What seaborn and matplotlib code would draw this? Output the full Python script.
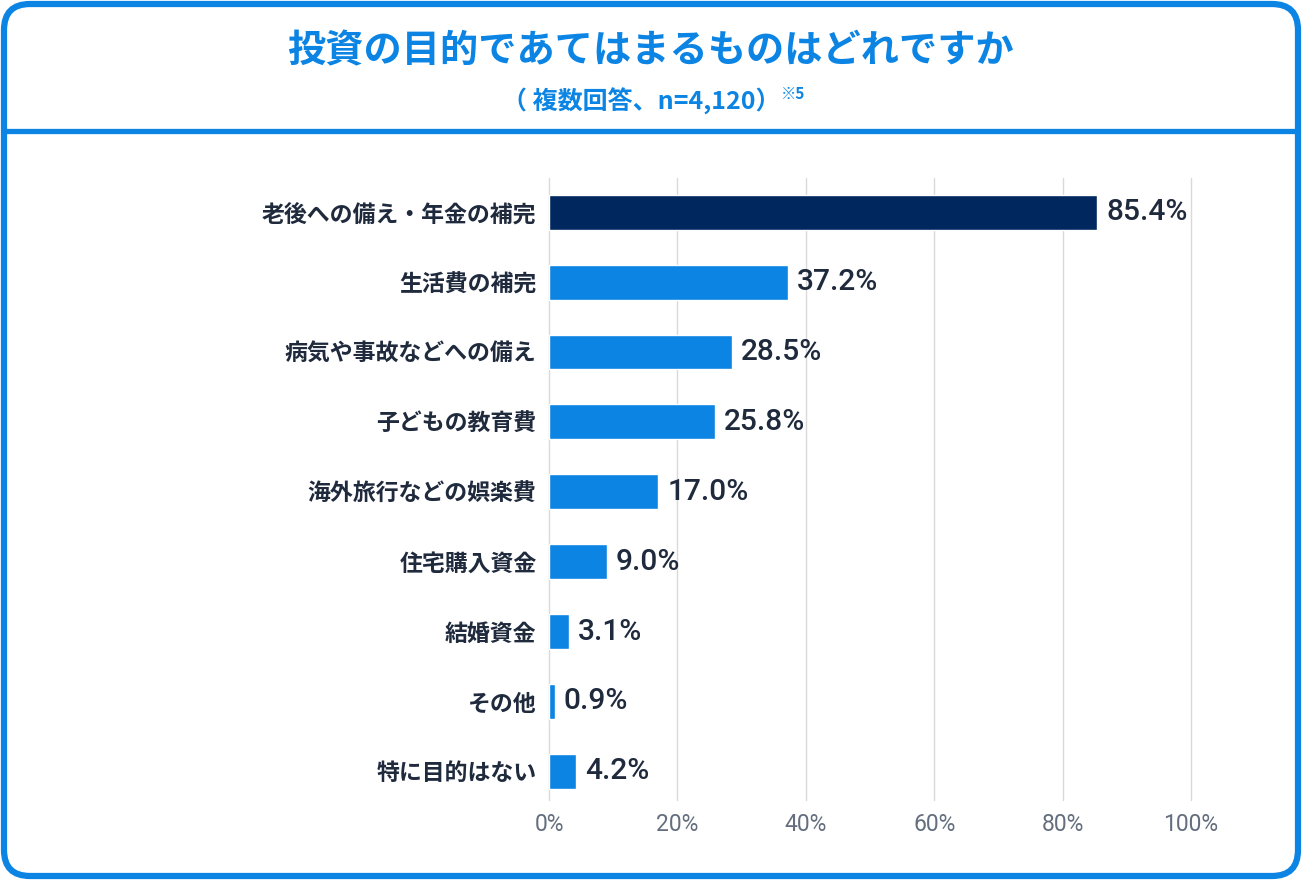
import matplotlib
matplotlib.use("Agg")
import matplotlib.pyplot as plt
from matplotlib.patches import FancyBboxPatch
import seaborn as sns
import pandas as pd

categories = ["老後への備え・年金の補完", "生活費の補完", "病気や事故などへの備え", "子どもの教育費",
              "海外旅行などの娯楽費", "住宅購入資金", "結婚資金", "その他", "特に目的はない"]
values = [85.4, 37.2, 28.5, 25.8, 17.0, 9.0, 3.1, 0.9, 4.2]
tick_values = [0, 20, 40, 60, 80, 100]
tick_labels = ["0%", "20%", "40%", "60%", "80%", "100%"]
title = "投資の目的であてはまるものはどれですか"
subtitle = "（ 複数回答、n=4,120）"
note = "※5"

BLUE = "#0b84e3"
NAVY = "#00285f"
TEXT = "#1f2a3d"
GREY = "#646e7e"
JP = ["Noto Sans CJK JP", "DejaVu Sans"]

sns.set_theme(style="white")
plt.rcParams["font.family"] = JP

fig = plt.figure(figsize=(13.02, 8.8), dpi=100)
W, H = 1302, 880

# frame
frame = FancyBboxPatch((4 / W, 4 / H), (W - 8) / W, (H - 8) / H,
                       boxstyle="round,pad=0,rounding_size=0.02",
                       transform=fig.transFigure, facecolor="none",
                       edgecolor=BLUE, linewidth=4.5, mutation_aspect=W / H, zorder=5)
fig.patches.append(frame)
fig.add_artist(plt.Line2D([4 / W, (W - 4) / W], [1 - 131 / H, 1 - 131 / H],
                          transform=fig.transFigure, color=BLUE, linewidth=3.8))

fig.text(0.5, 1 - 51 / H, title, ha="center", va="center", fontsize=27.5,
         fontweight="bold", color=BLUE, family=JP)
sub = fig.text(0.5 - 10 / W, 1 - 101 / H, subtitle, ha="center", va="center", fontsize=18,
               fontweight="bold", color=BLUE, family=JP)
fig.canvas.draw()
bb = sub.get_window_extent()
fig.text(bb.x1 / W + 1 / W, 1 - 94 / H, note, ha="left", va="center",
         fontsize=11, fontweight="bold", color=BLUE, family=JP)

ax = fig.add_axes([549 / W, 1 - 800 / H, (1191 - 549) / W, (800 - 178) / H])
df = pd.DataFrame({"cat": categories, "val": values})
palette = [NAVY] + [BLUE] * (len(categories) - 1)
sns.barplot(data=df, x="val", y="cat", hue="cat", palette=palette, legend=False,
            orient="h", width=0.5, ax=ax, zorder=3, saturation=1)

ax.set_xlim(0, 100)
ax.set_ylim(8.41, -0.49)
ax.set_xticks(tick_values)
ax.set_xticklabels(tick_labels, color=GREY, fontsize=16.5, family=["Roboto", "DejaVu Sans"])
ax.tick_params(axis="x", length=0, pad=9)
ax.tick_params(axis="y", length=0, pad=9)
for lbl in ax.get_yticklabels():
    lbl.set_fontsize(16.5)
    lbl.set_fontweight("bold")
    lbl.set_color(TEXT)
ax.set_xlabel("")
ax.set_ylabel("")
for s in ax.spines.values():
    s.set_visible(False)
ax.grid(axis="x", color="#d9d9d9", linewidth=1, zorder=0)
ax.grid(axis="y", visible=False)
for gl in ax.get_xgridlines():
    gl.set_clip_on(False)
ax.set_facecolor("none")

for i, v in enumerate(values):
    ax.text(v + 1.4, i, f"{v:.1f}%", va="center", ha="left", fontsize=21.5,
            color=TEXT, fontweight="medium", family=["Roboto", "DejaVu Sans"], zorder=4)

fig.savefig("out.png", dpi=100)
